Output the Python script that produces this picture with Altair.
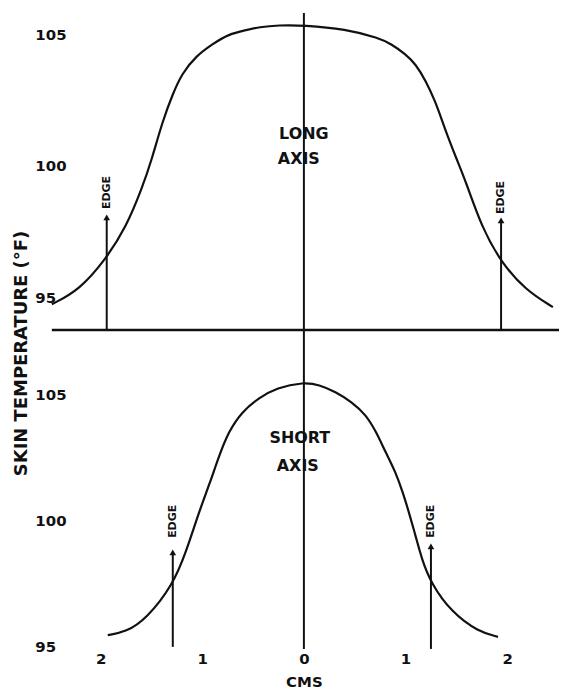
import altair as alt
import pandas as pd

# ---- data ----
long_cms = [-2.48, -2.21, -1.95, -1.75, -1.59, -1.50, -1.39, -1.29, -1.20, -1.06, -0.90, -0.74,
            -0.57, -0.44, -0.25, 0.0, 0.41, 0.74, 0.86, 1.0, 1.10, 1.20, 1.29, 1.35, 1.42, 1.50,
            1.59, 1.75, 1.94, 2.18, 2.45]
long_temp = [94.73, 95.27, 96.44, 97.65, 99.17, 100.19, 101.70, 102.73, 103.50, 104.17, 104.62, 105.0,
             105.15, 105.27, 105.34, 105.34, 105.19, 104.85, 104.62, 104.24, 103.86, 103.22, 102.46,
             101.82, 101.06, 100.27, 99.43, 97.65, 96.33, 95.27, 94.62]
short_cms = [-1.93, -1.75, -1.55, -1.29, -1.16, -1.03, -0.93, -0.83, -0.74, -0.61, -0.44, -0.27,
             0.0, 0.15, 0.31, 0.47, 0.61, 0.71, 0.80, 0.90, 0.98, 1.03, 1.10, 1.16, 1.25, 1.45,
             1.72, 1.91]
short_temp = [95.47, 95.59, 96.11, 97.45, 98.75, 100.38, 101.44, 102.63, 103.54, 104.33, 104.88, 105.28,
              105.50, 105.40, 105.12, 104.72, 104.21, 103.54, 102.75, 101.96, 101.05, 100.38, 99.39,
              98.48, 97.53, 96.38, 95.59, 95.40]

long_edge_cms = [-1.94, 1.94]
long_edge_base = [93.75, 93.75]
long_edge_tip = [98.03, 97.92]
long_edge_label = [98.98, 98.79]

short_edge_cms = [-1.29, 1.25]
short_edge_base = [95.0, 94.92]
short_edge_tip = [98.75, 98.99]
short_edge_label = [99.98, 99.98]

long_center = [105.8, 93.56]
short_center = [107.37, 94.92]
baseline_cms = [-2.48, 2.51]
baseline_temp = 93.75

long_text = ["LONG", "AXIS"]
long_text_pos = [(0.0, 101.21), (-0.05, 100.27)]
short_text = ["SHORT", "AXIS"]
short_text_pos = [(-0.04, 103.3), (-0.06, 102.19)]

x_ticks = [-2, -1, 0, 1, 2]
y_ticks = [95, 100, 105]

FONT = "DejaVu Sans"
INK = "#111111"

x_scale = alt.Scale(domain=[-2.99, 2.51], nice=False, zero=False)


def panel(curve_c, curve_t, edge_c, edge_base, edge_tip, edge_lab, center, texts, text_pos,
          y_domain, height, y_axis, x_axis, baseline=False):
    ysc = alt.Scale(domain=y_domain, nice=False, zero=False)
    X = alt.X("c:Q", scale=x_scale, axis=x_axis)
    Y = alt.Y("t:Q", scale=ysc, axis=y_axis)

    curve = alt.Chart(pd.DataFrame({"c": curve_c, "t": curve_t})).mark_line(
        color=INK, strokeWidth=2.2, interpolate="basis").encode(x=X, y=Y)

    center_rule = alt.Chart(pd.DataFrame({"c": [0.0], "t": [center[0]], "t2": [center[1]]})).mark_rule(
        color=INK, strokeWidth=2).encode(x=X, y=Y, y2="t2:Q")

    edges = pd.DataFrame({"c": edge_c, "t": edge_tip, "t2": edge_base})
    edge_rules = alt.Chart(edges).mark_rule(color=INK, strokeWidth=2).encode(x=X, y=Y, y2="t2:Q")
    heads = alt.Chart(edges).mark_point(shape="triangle-up", filled=True, size=45, color=INK,
                                        opacity=1).encode(x=X, y=Y)
    edge_text = alt.Chart(pd.DataFrame({"c": edge_c, "t": edge_lab, "s": ["EDGE", "EDGE"]})).mark_text(
        angle=270, font=FONT, fontSize=11, fontWeight="bold", color=INK,
        align="center", baseline="middle").encode(x=X, y=Y, text="s:N")

    lab = alt.Chart(pd.DataFrame({"c": [p[0] for p in text_pos], "t": [p[1] for p in text_pos],
                                  "s": texts})).mark_text(
        font=FONT, fontSize=16, fontWeight="bold", color=INK, align="center",
        baseline="middle").encode(x=X, y=Y, text="s:N")

    layers = [curve, center_rule, edge_rules, heads, edge_text, lab]
    if baseline:
        base = alt.Chart(pd.DataFrame({"c": [baseline_cms[0]], "c2": [baseline_cms[1]],
                                       "t": [baseline_temp]})).mark_rule(
            color=INK, strokeWidth=2.5).encode(x=X, x2="c2:Q", y=Y)
        layers.append(base)
    return alt.layer(*layers).properties(width=561, height=height)


common_y = dict(values=y_ticks, offset=-35, labelAlign="left", domain=False, ticks=False,
                tickSize=0, labelPadding=0, grid=False, labelFont=FONT, labelFontSize=15,
                labelFontWeight="bold", labelColor=INK)

top_axis = alt.Axis(title="SKIN TEMPERATURE (°F)", titleX=-13, titleY=353, titleAngle=270,
                    titleAlign="center", titleBaseline="middle", titleFont=FONT, titleFontSize=18,
                    titleFontWeight="bold", titleColor=INK, **common_y)
bottom_axis = alt.Axis(title=None, **common_y)

bottom_x_axis = alt.Axis(values=x_ticks, labelExpr="abs(datum.value)", domain=False, ticks=False,
                         grid=False, labelPadding=3, labelFont=FONT, labelFontSize=15,
                         labelFontWeight="bold", labelColor=INK, title="CMS", titleFont=FONT,
                         titleFontSize=15, titleFontWeight="bold", titleColor=INK, titleX=305,
                         titleY=33, titleBaseline="middle", titleAlign="center")

top = panel(long_cms, long_temp, long_edge_cms, long_edge_base, long_edge_tip, long_edge_label,
            long_center, long_text, long_text_pos, [93.56, 106.25], 335, top_axis, None, baseline=True)
bottom = panel(short_cms, short_temp, short_edge_cms, short_edge_base, short_edge_tip, short_edge_label,
               short_center, short_text, short_text_pos, [94.92, 107.37], 315, bottom_axis, bottom_x_axis)

chart = alt.vconcat(top, bottom, spacing=0, bounds="flush").resolve_scale(y="independent").configure(
    padding=0, background="white").configure_view(stroke=None)

chart.save("out.html", embed_options={"renderer": "svg", "actions": False})
